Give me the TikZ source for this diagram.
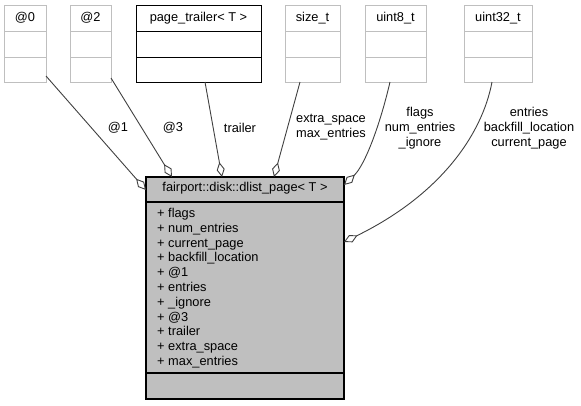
\documentclass[tikz,border=0pt]{standalone}
\usepackage{fontspec}
\setmainfont{Liberation Sans}
\usetikzlibrary{arrows.meta,calc}
\definecolor{lgray}{HTML}{BFBFBF}
\definecolor{edgec}{HTML}{404040}
\begin{document}
\begin{tikzpicture}[x=1pt,y=-1pt,
  font=\fontsize{12.8}{15}\selectfont,
  cls/.style={draw=lgray, line width=1pt, fill=white, rectangle, anchor=north west,
    inner sep=0pt, outer sep=0pt, minimum height=77pt},
  clsdark/.style={cls, draw=black},
  div/.style={draw=lgray, line width=1pt},
  divdark/.style={draw=black, line width=1pt},
  edge/.style={draw=edgec, line width=0.9pt, {Diamond[open,length=15pt,width=8pt,line width=0.9pt]}-},
  lbl/.style={align=center, inner sep=0pt, font=\fontsize{12.8}{15}\selectfont}]
\useasboundingbox (0,0) rectangle (581,405);
% small class boxes
\node[cls, minimum width=42pt] (a0) at (4,5) {};
\node[cls, minimum width=41pt] (a2) at (70,5) {};
\node[clsdark, minimum width=125pt] (pt) at (136,5) {};
\node[cls, minimum width=55pt] (sz) at (285,5) {};
\node[cls, minimum width=61pt] (u8) at (365,5) {};
\node[cls, minimum width=68pt] (u32) at (464,5) {};
\foreach \n in {a0,a2,sz,u8,u32}{
  \draw[div] ([yshift=-26pt]\n.north west) -- ([yshift=-26pt]\n.north east);
  \draw[div] ([yshift=-52pt]\n.north west) -- ([yshift=-52pt]\n.north east);
}
\draw[divdark] ([yshift=-26pt]pt.north west) -- ([yshift=-26pt]pt.north east);
\draw[divdark] ([yshift=-52pt]pt.north west) -- ([yshift=-52pt]pt.north east);
\node (t0) at ([yshift=-13pt]a0.north) {@0};
\node (t2) at ([yshift=-13pt]a2.north) {@2};
\node (tpt) at ([yshift=-13pt]pt.north) {page\_trailer< T >};
\node (tsz) at ([yshift=-13pt]sz.north) {size\_t};
\node (tu8) at ([yshift=-13pt]u8.north) {uint8\_t};
\node (tu32) at ([yshift=-13pt]u32.north) {uint32\_t};
% main class box
\node[draw=black, line width=1.2pt, fill=lgray, rectangle, anchor=north west,
  inner sep=0pt, outer sep=0pt, minimum width=198pt, minimum height=222pt] (main) at (146,177) {};
\draw[divdark, line width=1.2pt] ([yshift=-25pt]main.north west) -- ([yshift=-25pt]main.north east);
\draw[divdark, line width=1.2pt] ([yshift=-196pt]main.north west) -- ([yshift=-196pt]main.north east);
\node (tmain) at ([yshift=-11.5pt]main.north) {fairport::disk::dlist\_page< T >};
\node[anchor=north west, inner sep=0pt, align=left, font=\fontsize{12.8}{14.8}\selectfont] (mem) at (157,208)
 {+ flags\\+ num\_entries\\+ current\_page\\+ backfill\_location\\+ @1\\+ entries\\+ \_ignore\\+ @3\\+ trailer\\+ extra\_space\\+ max\_entries};
% connectors
\draw[edge] ([yshift=-13pt]main.north west) -- ([yshift=6pt]a0.south east);
\draw[edge] ([xshift=26pt]main.north west) -- ([yshift=4pt]a2.south east);
\draw[edge] ([xshift=76pt]main.north west) -- ([xshift=6.5pt]pt.south);
\draw[edge] ([xshift=128pt]main.north west) -- ([xshift=-12.5pt]sz.south);
\draw[edge] ([yshift=-8pt]main.north east) .. controls (365,165) and (380,125) .. ([xshift=-5.5pt]u8.south);
\draw[edge] ([yshift=-65pt]main.north east) .. controls (440,195) and (482,135) .. ([xshift=-6pt]u32.south);
% edge labels
\node[lbl] (l1) at (118,128) {@1};
\node[lbl] (l3) at (173,128) {@3};
\node[lbl] (ltr) at (240,128) {trailer};
\node[lbl] (lsz) at (331,127.5) {extra\_space\\max\_entries};
\node[lbl] (lu8) at (420,128) {flags\\num\_entries\\\_ignore};
\node[lbl] (lu32) at (529,128) {entries\\backfill\_location\\current\_page};
\end{tikzpicture}
\end{document}
